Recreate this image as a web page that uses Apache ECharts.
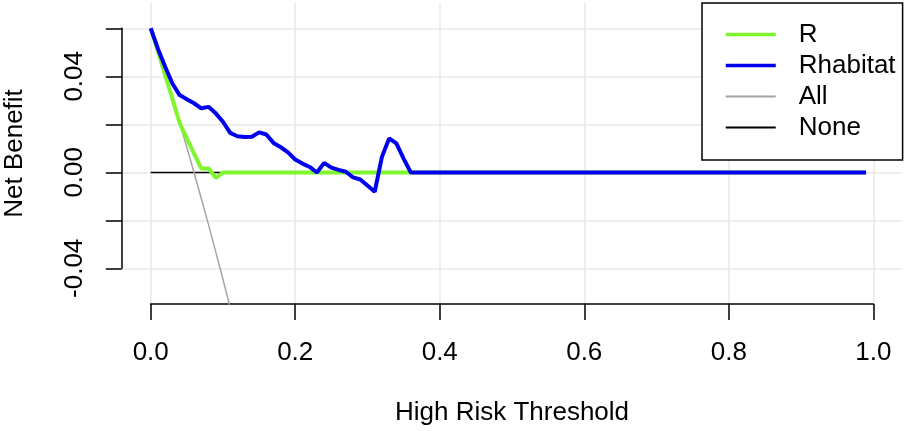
<!DOCTYPE html>
<html>
<head>
<meta charset="utf-8">
<script src="https://cdn.jsdelivr.net/npm/echarts@6/dist/echarts.min.js"></script>
<style>
  html, body { margin: 0; padding: 0; background: #fff; }
  #main { width: 905px; height: 431px; }
</style>
</head>
<body>
<div id="main"></div>
<script>
// thresholds (flat tail at 0 from 0.36 to 0.99)
const thresholds = [0, 0.01, 0.02, 0.03, 0.04, 0.05, 0.06, 0.07, 0.08, 0.09,
  0.10, 0.11, 0.12, 0.13, 0.14, 0.15, 0.16, 0.17, 0.18, 0.19,
  0.20, 0.21, 0.22, 0.23, 0.24, 0.25, 0.26, 0.27, 0.28, 0.29,
  0.30, 0.31, 0.32, 0.33, 0.34, 0.35, 0.36, 0.99]

const rValues = [0.0600, 0.0505, 0.0405, 0.0307, 0.0206, 0.0142, 0.0078, 0.0017, 0.0017, -0.0022,
  0, 0, 0, 0, 0, 0, 0, 0, 0, 0,
  0, 0, 0, 0, 0, 0, 0, 0, 0, 0,
  0, 0, 0, 0, 0, 0, 0, 0]

const rhabitatValues = [0.0600, 0.0515, 0.0440, 0.0370, 0.0322, 0.0305, 0.0288, 0.0267, 0.0273, 0.0246,
  0.0211, 0.0165, 0.0151, 0.0148, 0.0149, 0.0167, 0.0158, 0.0123, 0.0105, 0.0084,
  0.0054, 0.0037, 0.0023, 0.0000, 0.0040, 0.0020, 0.0011, 0.0003, -0.0020, -0.0029,
  -0.0054, -0.0080, 0.0065, 0.0142, 0.0121, 0.0058, 0.0000, 0.0000]

const allThresholds = [0, 0.01, 0.02, 0.03, 0.04, 0.05, 0.06, 0.07, 0.08, 0.09, 0.10, 0.11]
const allValues = [0.0600, 0.0505, 0.0408, 0.0309, 0.0208, 0.0105, 0.0000, -0.0108, -0.0217, -0.0330, -0.0444, -0.0562]

const noneThresholds = [0, 0.99]
const noneValues = [0, 0]

const xTicks = { min: 0, max: 1, interval: 0.2 }
const yTicks = { min: -0.04, max: 0.06, interval: 0.02 }
const yTickLabels = ['-0.04', '0.00', '0.04']

const zip = (xs, ys) => xs.map((x, i) => [x, ys[i]])
const FONT = 'Liberation Sans, Arial, Helvetica, sans-serif'
const black = '#000'
const green = '#7ff52e'
const blue = '#0000f0'
const gray = '#a6a6a6'

const myChart = echarts.init(document.getElementById('main'), null, { renderer: 'canvas' })

myChart.setOption({
  animation: false,
  backgroundColor: '#fff',
  textStyle: { fontFamily: FONT },
  grid: [
    // 0: plot region (data)
    { left: 121.8, right: 2.8, top: 3, bottom: 127, outerBoundsMode: 'none', containLabel: false },
    // 1: x axis (ticks 0..1) + vertical grid lines
    { left: 150.7, right: 31.7, top: 3, bottom: 127, outerBoundsMode: 'none', containLabel: false },
    // 2: y axis (ticks -0.04..0.06) + horizontal grid lines
    { left: 121.8, right: 2.8, top: 28.3, bottom: 162.7, outerBoundsMode: 'none', containLabel: false }
  ],
  xAxis: [
    {
      gridIndex: 0, type: 'value', min: -0.04, max: 1.04,
      axisLine: { show: false }, axisTick: { show: false }, axisLabel: { show: false }, splitLine: { show: false },
      name: 'High Risk Threshold', nameLocation: 'middle', nameGap: 96,
      nameTextStyle: { fontSize: 26, color: black, fontFamily: FONT }
    },
    {
      gridIndex: 1, type: 'value', min: xTicks.min, max: xTicks.max, interval: xTicks.interval,
      axisLine: { show: true, onZero: false, lineStyle: { color: black, width: 1.5 } },
      axisTick: { show: true, inside: false, length: 16, lineStyle: { color: black, width: 1.5 } },
      axisLabel: { show: true, margin: 35.5, fontSize: 26, color: black, fontFamily: FONT,
        formatter: v => v.toFixed(1) },
      splitLine: { show: true, lineStyle: { color: '#e8e8e8', width: 1.5 } }
    },
    {
      gridIndex: 2, type: 'value', min: -0.04, max: 1.04, show: false
    }
  ],
  yAxis: [
    {
      gridIndex: 0, type: 'value', min: -0.0547, max: 0.0705,
      axisLine: { show: false }, axisTick: { show: false }, axisLabel: { show: false }, splitLine: { show: false },
      name: 'Net Benefit', nameLocation: 'middle', nameGap: 94,
      nameTextStyle: { fontSize: 26, color: black, fontFamily: FONT }
    },
    {
      gridIndex: 1, type: 'value', min: -0.0547, max: 0.0705, show: false
    },
    {
      gridIndex: 2, type: 'value', min: yTicks.min, max: yTicks.max, interval: yTicks.interval,
      axisLine: { show: true, onZero: false, lineStyle: { color: black, width: 1.5 } },
      axisTick: { show: true, inside: false, length: 16, lineStyle: { color: black, width: 1.5 } },
      axisLabel: {
        show: true, rotate: 90, margin: 34, fontSize: 26, color: black, fontFamily: FONT,
        formatter: function (v) {
          const s = (Math.abs(v) < 1e-9 ? 0 : v).toFixed(2)
          return yTickLabels.includes(s) ? s : ''
        }
      },
      splitLine: { show: true, lineStyle: { color: '#e8e8e8', width: 1.5 } }
    }
  ],
  legend: {
    data: [
      { name: 'R', lineStyle: { color: green, width: 3.5 } },
      { name: 'Rhabitat', lineStyle: { color: blue, width: 3.5 } },
      { name: 'All', lineStyle: { color: gray, width: 2 } },
      { name: 'None', lineStyle: { color: black, width: 2 } }
    ],
    orient: 'vertical',
    left: 702, top: 3,
    padding: [16, 7, 17, 22],
    itemWidth: 50, itemHeight: 20, itemGap: 0,
    itemStyle: { opacity: 0 },
    borderColor: black, borderWidth: 1.5, borderRadius: 0,
    backgroundColor: '#fff',
    textStyle: { fontSize: 26, color: black, fontFamily: FONT, lineHeight: 31, padding: [0, 0, 0, 18] },
    selectedMode: false
  },
  series: [
    {
      name: 'None', type: 'line', xAxisIndex: 0, yAxisIndex: 0,
      data: zip(noneThresholds, noneValues), symbol: 'none',
      lineStyle: { color: black, width: 1.5 }, itemStyle: { color: black }, z: 2
    },
    {
      name: 'All', type: 'line', xAxisIndex: 0, yAxisIndex: 0,
      data: zip(allThresholds, allValues), symbol: 'none', clip: true,
      lineStyle: { color: gray, width: 1.5 }, itemStyle: { color: gray }, z: 3
    },
    {
      name: 'R', type: 'line', xAxisIndex: 0, yAxisIndex: 0,
      data: zip(thresholds, rValues), symbol: 'none',
      lineStyle: { color: green, width: 4 }, itemStyle: { color: green }, z: 4
    },
    {
      name: 'Rhabitat', type: 'line', xAxisIndex: 0, yAxisIndex: 0,
      data: zip(thresholds, rhabitatValues), symbol: 'none',
      lineStyle: { color: blue, width: 4 }, itemStyle: { color: blue }, z: 5
    }
  ]
})
</script>
</body>
</html>
